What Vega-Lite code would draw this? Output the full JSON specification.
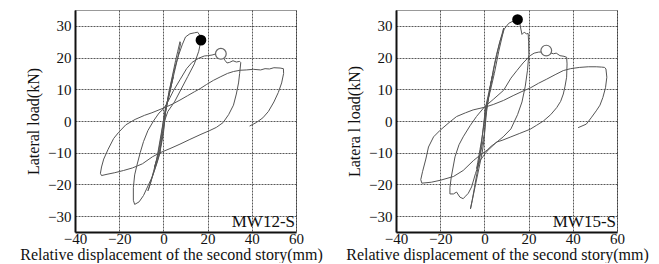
{
"$schema": "https://vega.github.io/schema/vega-lite/v6.json",
"background": "white",
"padding": {"left": 19, "top": 9, "right": 0, "bottom": 0},
"spacing": 22,
"config": {
  "font": "Liberation Serif",
  "text": {"font": "Liberation Serif"},
  "view": {"stroke": "#999", "strokeWidth": 1},
  "axis": {"labelFont": "Liberation Serif", "titleFont": "Liberation Serif", "labelFontSize": 15, "titleFontSize": 16, "titleFontWeight": "normal", "labelColor": "#111", "titleColor": "#111", "ticks": false, "domainColor": "#111", "domainWidth": 2, "grid": true, "gridColor": "#222", "gridDash": [2, 1], "gridWidth": 1, "gridOpacity": 0.75, "labelPadding": 4, "labelFlush": false, "labelOverlap": false},
  "axisX": {"labelPadding": -1, "titlePadding": 0}
},
"datasets": {
  "mw12": [
{"i":1,"x":0,"y":0},{"i":2,"x":1,"y":3},{"i":3,"x":2.2,"y":7},{"i":4,"x":3.5,"y":11},{"i":5,"x":4.5,"y":14},{"i":6,"x":4,"y":13},{"i":7,"x":2.5,"y":8},{"i":8,"x":1,"y":4.2},{"i":9,"x":0,"y":0},{"i":10,"x":-1,"y":-5},
{"i":11,"x":-2,"y":-9},{"i":12,"x":-3,"y":-12},{"i":13,"x":-4,"y":-14.5},{"i":14,"x":-3.5,"y":-13.5},{"i":15,"x":-2,"y":-10},{"i":16,"x":-1,"y":-7},{"i":17,"x":0,"y":-3},{"i":18,"x":1,"y":3},{"i":19,"x":2.5,"y":9},{"i":20,"x":4,"y":14},
{"i":21,"x":5.5,"y":19},{"i":22,"x":6.5,"y":22},{"i":23,"x":7.5,"y":25},{"i":24,"x":7.8,"y":24.5},{"i":25,"x":6.5,"y":20},{"i":26,"x":4.5,"y":14},{"i":27,"x":2.5,"y":8},{"i":28,"x":1,"y":4},{"i":29,"x":0,"y":0},{"i":30,"x":-1.5,"y":-6},
{"i":31,"x":-3,"y":-12},{"i":32,"x":-4.5,"y":-16},{"i":33,"x":-6,"y":-20},{"i":34,"x":-7,"y":-22},{"i":35,"x":-6.5,"y":-21},{"i":36,"x":-4.5,"y":-16.5},{"i":37,"x":-2.5,"y":-12},{"i":38,"x":-1.5,"y":-9.5},{"i":39,"x":0,"y":-4},{"i":40,"x":1,"y":3},
{"i":41,"x":2.5,"y":9},{"i":42,"x":4.5,"y":15},{"i":43,"x":6.5,"y":20},{"i":44,"x":8.5,"y":24},{"i":45,"x":10,"y":26.5},{"i":46,"x":12,"y":27.5},{"i":47,"x":14,"y":27.8},{"i":48,"x":15.5,"y":28},{"i":49,"x":16.5,"y":27},{"i":50,"x":17,"y":25.5},
{"i":51,"x":16,"y":22},{"i":52,"x":14,"y":18},{"i":53,"x":11,"y":14},{"i":54,"x":8,"y":10},{"i":55,"x":5,"y":6},{"i":56,"x":2,"y":3},{"i":57,"x":0.5,"y":0},{"i":58,"x":-1,"y":-6},{"i":59,"x":-1.5,"y":-10},{"i":60,"x":-3,"y":-13.5},
{"i":61,"x":-5,"y":-17.5},{"i":62,"x":-7,"y":-20.5},{"i":63,"x":-9,"y":-23.5},{"i":64,"x":-11,"y":-25.5},{"i":65,"x":-13,"y":-26.3},{"i":66,"x":-13.6,"y":-25},{"i":67,"x":-13.6,"y":-21},{"i":68,"x":-13,"y":-17},{"i":69,"x":-12,"y":-14},{"i":70,"x":-10.5,"y":-10},
{"i":71,"x":-9,"y":-6.5},{"i":72,"x":-7,"y":-3},{"i":73,"x":-4.5,"y":0},{"i":74,"x":-2,"y":2.5},{"i":75,"x":0,"y":3.8},{"i":76,"x":2,"y":6},{"i":77,"x":4.5,"y":9.5},{"i":78,"x":7.5,"y":13},{"i":79,"x":10.5,"y":16.5},{"i":80,"x":13,"y":18.5},
{"i":81,"x":16,"y":19.8},{"i":82,"x":18.5,"y":20.5},{"i":83,"x":20,"y":20.6},{"i":84,"x":22,"y":20.8},{"i":85,"x":24,"y":21.2},{"i":86,"x":26,"y":21},{"i":87,"x":27,"y":20},{"i":88,"x":28,"y":19},{"i":89,"x":28.8,"y":18.3},{"i":90,"x":30,"y":18.5},
{"i":91,"x":31.5,"y":19},{"i":92,"x":33,"y":18.6},{"i":93,"x":34.5,"y":18.8},{"i":94,"x":35,"y":18.4},{"i":95,"x":34.5,"y":15},{"i":96,"x":34,"y":12},{"i":97,"x":33,"y":8.5},{"i":98,"x":31.7,"y":5},{"i":99,"x":29.5,"y":2},{"i":100,"x":27,"y":-0.5},
{"i":101,"x":24,"y":-2},{"i":102,"x":21,"y":-3},{"i":103,"x":17,"y":-4.2},{"i":104,"x":12,"y":-5.8},{"i":105,"x":7.5,"y":-7.3},{"i":106,"x":3,"y":-8.7},{"i":107,"x":-1.5,"y":-10},{"i":108,"x":-5,"y":-11.3},{"i":109,"x":-9.5,"y":-13.5},{"i":110,"x":-14,"y":-14.8},
{"i":111,"x":-18,"y":-15.6},{"i":112,"x":-22,"y":-16.3},{"i":113,"x":-25.5,"y":-16.8},{"i":114,"x":-28,"y":-17.2},{"i":115,"x":-28.5,"y":-16.5},{"i":116,"x":-28,"y":-14.5},{"i":117,"x":-27,"y":-12},{"i":118,"x":-25,"y":-8.9},{"i":119,"x":-22.5,"y":-5.5},{"i":120,"x":-20.4,"y":-3.7},
{"i":121,"x":-17,"y":-1.2},{"i":122,"x":-12.8,"y":0.5},{"i":123,"x":-8.5,"y":1.8},{"i":124,"x":-5.2,"y":2.6},{"i":125,"x":-2,"y":3.5},{"i":126,"x":0.8,"y":4.3},{"i":127,"x":4,"y":5.3},{"i":128,"x":7.5,"y":6.6},{"i":129,"x":11,"y":8},{"i":130,"x":14,"y":9.2},
{"i":131,"x":16.6,"y":10.2},{"i":132,"x":19.5,"y":11.5},{"i":133,"x":22.6,"y":12.8},{"i":134,"x":26,"y":14},{"i":135,"x":29,"y":15},{"i":136,"x":31.7,"y":15.6},{"i":137,"x":34.7,"y":16},{"i":138,"x":37.5,"y":16.1},{"i":139,"x":40.7,"y":16.3},{"i":140,"x":44,"y":16.1},
{"i":141,"x":46,"y":16.5},{"i":142,"x":48,"y":16.4},{"i":143,"x":50,"y":16.8},{"i":144,"x":52.8,"y":16.7},{"i":145,"x":54.3,"y":16.5},{"i":146,"x":54.4,"y":15},{"i":147,"x":53.5,"y":12},{"i":148,"x":52,"y":9},{"i":149,"x":50,"y":6},{"i":150,"x":47.5,"y":3},
{"i":151,"x":45,"y":1},{"i":152,"x":42,"y":-0.5},{"i":153,"x":39,"y":-1.6}
  ],
  "mw15": [
{"i":1,"x":0,"y":0},{"i":2,"x":1,"y":4},{"i":3,"x":2,"y":8},{"i":4,"x":3,"y":12},{"i":5,"x":4,"y":15},{"i":6,"x":3.5,"y":14},{"i":7,"x":2,"y":9},{"i":8,"x":0.5,"y":4.2},{"i":9,"x":0,"y":0},{"i":10,"x":-1,"y":-5},
{"i":11,"x":-2,"y":-9},{"i":12,"x":-3,"y":-13},{"i":13,"x":-3.5,"y":-15},{"i":14,"x":-3,"y":-14},{"i":15,"x":-2,"y":-11},{"i":16,"x":0,"y":-4},{"i":17,"x":1,"y":3},{"i":18,"x":2.5,"y":10},{"i":19,"x":4,"y":16},{"i":20,"x":5.5,"y":21},
{"i":21,"x":7,"y":25},{"i":22,"x":8,"y":27.5},{"i":23,"x":8.7,"y":29.3},{"i":24,"x":8.5,"y":28},{"i":25,"x":6.5,"y":22},{"i":26,"x":4.5,"y":15},{"i":27,"x":2.5,"y":9},{"i":28,"x":0.5,"y":4},{"i":29,"x":-0.5,"y":-2},{"i":30,"x":-1.5,"y":-8},
{"i":31,"x":-2.5,"y":-13},{"i":32,"x":-3.5,"y":-17},{"i":33,"x":-4.5,"y":-21},{"i":34,"x":-5.5,"y":-25},{"i":35,"x":-6.3,"y":-27.7},{"i":36,"x":-5.5,"y":-25},{"i":37,"x":-4,"y":-20},{"i":38,"x":-2.5,"y":-15},{"i":39,"x":-1,"y":-10},{"i":40,"x":0,"y":-5},
{"i":41,"x":0.5,"y":1},{"i":42,"x":1,"y":4.5},{"i":43,"x":3,"y":12},{"i":44,"x":5,"y":19},{"i":45,"x":7,"y":25},{"i":46,"x":9,"y":29},{"i":47,"x":11,"y":30.8},{"i":48,"x":13,"y":31.5},{"i":49,"x":15,"y":32},{"i":50,"x":16,"y":31},
{"i":51,"x":16.5,"y":29},{"i":52,"x":17,"y":27.3},{"i":53,"x":18,"y":28},{"i":54,"x":19,"y":27.5},{"i":55,"x":19.8,"y":27.6},{"i":56,"x":20,"y":25},{"i":57,"x":20.1,"y":21},{"i":58,"x":19.5,"y":16},{"i":59,"x":18.5,"y":11},{"i":60,"x":17,"y":6},
{"i":61,"x":15,"y":2},{"i":62,"x":12,"y":-2.5},{"i":63,"x":8.5,"y":-5},{"i":64,"x":5,"y":-7},{"i":65,"x":1.2,"y":-9.5},{"i":66,"x":-2,"y":-12.5},{"i":67,"x":-4,"y":-16.5},{"i":68,"x":-5.8,"y":-20.8},{"i":69,"x":-7.3,"y":-22.8},{"i":70,"x":-8.8,"y":-23.9},
{"i":71,"x":-9.6,"y":-24.5},{"i":72,"x":-11.1,"y":-24},{"i":73,"x":-12.6,"y":-22.4},{"i":74,"x":-14,"y":-23},{"i":75,"x":-15.6,"y":-23},{"i":76,"x":-15.6,"y":-21},{"i":77,"x":-15,"y":-17.7},{"i":78,"x":-13.3,"y":-11.3},{"i":79,"x":-11.5,"y":-7.5},{"i":80,"x":-9.6,"y":-5},
{"i":81,"x":-6.5,"y":-1.5},{"i":82,"x":-3.6,"y":1.4},{"i":83,"x":0.1,"y":4.5},{"i":84,"x":4,"y":6.8},{"i":85,"x":8.7,"y":9.7},{"i":86,"x":12,"y":13.5},{"i":87,"x":14.7,"y":15.9},{"i":88,"x":17.5,"y":18.3},{"i":89,"x":20.7,"y":20.6},{"i":90,"x":22.5,"y":21.4},
{"i":91,"x":24.4,"y":21.7},{"i":92,"x":26,"y":21.8},{"i":93,"x":28,"y":22.2},{"i":94,"x":30,"y":21.5},{"i":95,"x":31.2,"y":21.2},{"i":96,"x":32.5,"y":21.4},{"i":97,"x":34.2,"y":20.6},{"i":98,"x":36,"y":20.4},{"i":99,"x":37.2,"y":20.1},{"i":100,"x":37.4,"y":18},
{"i":101,"x":37.2,"y":13.8},{"i":102,"x":36.5,"y":11},{"i":103,"x":35.7,"y":8.5},{"i":104,"x":34.5,"y":6.2},{"i":105,"x":32.7,"y":4.2},{"i":106,"x":30,"y":2},{"i":107,"x":26.7,"y":0},{"i":108,"x":23.5,"y":-1.4},{"i":109,"x":20.7,"y":-2.6},{"i":110,"x":16,"y":-3.9},
{"i":111,"x":12,"y":-5},{"i":112,"x":8,"y":-6.1},{"i":113,"x":5.7,"y":-6.6},{"i":114,"x":3,"y":-8},{"i":115,"x":1.2,"y":-9.2},{"i":116,"x":-2,"y":-10.8},{"i":117,"x":-5,"y":-12.5},{"i":118,"x":-9.6,"y":-15.6},{"i":119,"x":-14,"y":-17.5},{"i":120,"x":-20,"y":-18.7},
{"i":121,"x":-24,"y":-19.3},{"i":122,"x":-28.3,"y":-19.6},{"i":123,"x":-28.8,"y":-18.5},{"i":124,"x":-28,"y":-16},{"i":125,"x":-26.5,"y":-12},{"i":126,"x":-25.3,"y":-8.2},{"i":127,"x":-23,"y":-5},{"i":128,"x":-20,"y":-2.9},{"i":129,"x":-16,"y":-0.5},{"i":130,"x":-12.6,"y":1.4},
{"i":131,"x":-8.5,"y":2.6},{"i":132,"x":-5.1,"y":3.5},{"i":133,"x":-2,"y":4},{"i":134,"x":0.4,"y":4.4},{"i":135,"x":4,"y":5.2},{"i":136,"x":8.7,"y":6.5},{"i":137,"x":13,"y":8},{"i":138,"x":17,"y":9.3},{"i":139,"x":20.7,"y":10.4},{"i":140,"x":24.5,"y":11.9},
{"i":141,"x":28.2,"y":13.2},{"i":142,"x":32,"y":14.6},{"i":143,"x":35.7,"y":15.9},{"i":144,"x":39,"y":16.5},{"i":145,"x":43.1,"y":16.9},{"i":146,"x":47,"y":17.1},{"i":147,"x":50.6,"y":17.1},{"i":148,"x":53,"y":17},{"i":149,"x":54.4,"y":16.9},{"i":150,"x":55,"y":16.4},
{"i":151,"x":55.4,"y":13.8},{"i":152,"x":54.8,"y":10.5},{"i":153,"x":53.6,"y":7.4},{"i":154,"x":52.3,"y":5},{"i":155,"x":50.6,"y":3.2},{"i":156,"x":48.3,"y":1},{"i":157,"x":46.1,"y":-1},{"i":158,"x":42.4,"y":-2.1}
  ],
  "mk12": [{"x": 17, "y": 25.5, "kind": "peak"}, {"x": 26, "y": 21.2, "kind": "ult"}, {"x": 60, "y": -33.4, "kind": "label", "label": "MW12-S"}],
  "mk15": [{"x": 15, "y": 32, "kind": "peak"}, {"x": 28, "y": 22.2, "kind": "ult"}, {"x": 60, "y": -33.4, "kind": "label", "label": "MW15-S"}]
},
"hconcat": [
  {
    "width": 221, "height": 222,
    "encoding": {
      "x": {"field": "x", "type": "quantitative", "scale": {"domain": [-40, 60], "nice": false}, "axis": {"values": [-40, -20, 0, 20, 40, 60], "title": "Relative displacement of the second story(mm)", "titleX": 96}},
      "y": {"field": "y", "type": "quantitative", "scale": {"domain": [-35, 35], "nice": false}, "axis": {"values": [-30, -20, -10, 0, 10, 20, 30], "title": "Lateral load(kN)", "titlePadding": 6}}
    },
    "layer": [
      {"data": {"name": "mw12"}, "mark": {"type": "line", "color": "#555", "strokeWidth": 1}, "encoding": {"order": {"field": "i", "type": "quantitative"}}},
      {"data": {"name": "mk12"}, "transform": [{"filter": "datum.kind === 'peak'"}], "mark": {"type": "point", "filled": true, "color": "#000", "size": 115, "opacity": 1}},
      {"data": {"name": "mk12"}, "transform": [{"filter": "datum.kind === 'ult'"}], "mark": {"type": "point", "fill": "white", "stroke": "#666", "strokeWidth": 1.2, "size": 115, "opacity": 1}},
      {"data": {"name": "mk12"}, "transform": [{"filter": "datum.kind === 'label'"}], "mark": {"type": "text", "align": "right", "baseline": "alphabetic", "fontSize": 17, "font": "Liberation Serif", "color": "#111", "dx": -1}, "encoding": {"text": {"field": "label", "type": "nominal"}}}
    ]
  },
  {
    "width": 221, "height": 222,
    "encoding": {
      "x": {"field": "x", "type": "quantitative", "scale": {"domain": [-40, 60], "nice": false}, "axis": {"values": [-40, -20, 0, 20, 40, 60], "title": "Relative displacement of the second story(mm)", "titleX": 101}},
      "y": {"field": "y", "type": "quantitative", "scale": {"domain": [-35, 35], "nice": false}, "axis": {"values": [-30, -20, -10, 0, 10, 20, 30], "title": "Latera l load(kN)", "titlePadding": 6}}
    },
    "layer": [
      {"data": {"name": "mw15"}, "mark": {"type": "line", "color": "#555", "strokeWidth": 1}, "encoding": {"order": {"field": "i", "type": "quantitative"}}},
      {"data": {"name": "mk15"}, "transform": [{"filter": "datum.kind === 'peak'"}], "mark": {"type": "point", "filled": true, "color": "#000", "size": 115, "opacity": 1}},
      {"data": {"name": "mk15"}, "transform": [{"filter": "datum.kind === 'ult'"}], "mark": {"type": "point", "fill": "white", "stroke": "#666", "strokeWidth": 1.2, "size": 115, "opacity": 1}},
      {"data": {"name": "mk15"}, "transform": [{"filter": "datum.kind === 'label'"}], "mark": {"type": "text", "align": "right", "baseline": "alphabetic", "fontSize": 17, "font": "Liberation Serif", "color": "#111", "dx": -1}, "encoding": {"text": {"field": "label", "type": "nominal"}}}
    ]
  }
]
}
